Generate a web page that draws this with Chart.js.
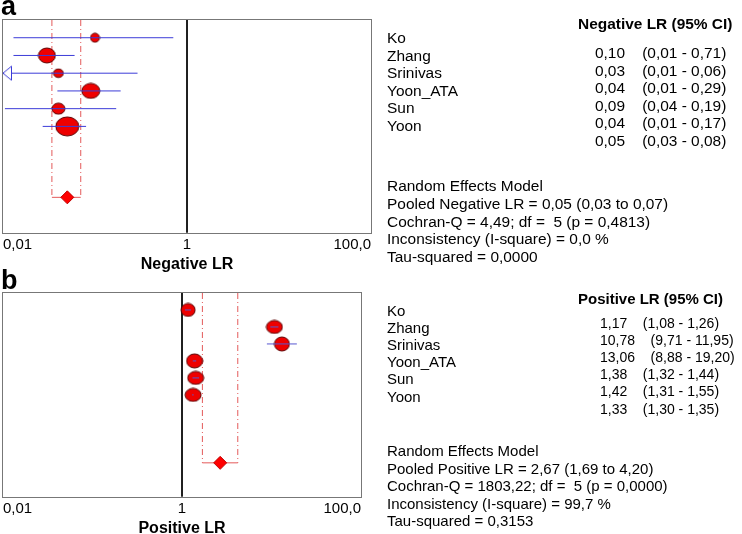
<!DOCTYPE html>
<html>
<head>
<meta charset="utf-8">
<script src="https://cdn.jsdelivr.net/npm/chart.js@4.4.1/dist/chart.umd.min.js"></script>
<style>
  html, body { margin: 0; padding: 0; background: #fff; }
  #page { position: relative; width: 742px; height: 534px; overflow: hidden;
          font-family: "Liberation Sans", Arial, sans-serif; color: #000; }
  #page canvas { position: absolute; left: 0; }
  .txt { position: absolute; line-height: 18px; white-space: pre; }
  .bold { font-weight: bold; }
  .letter { position: absolute; font-weight: bold; font-size: 27px; line-height: 27px; }
</style>
</head>
<body>
<div id="page">
  <canvas id="chartA" width="742" height="274" style="top:0"></canvas>
  <canvas id="chartB" width="742" height="274" style="top:264px"></canvas>
  <div class="letter" style="left:1px;top:-7px">a</div>
  <div class="letter" style="left:1px;top:267px">b</div>
</div>
<script>
// axis
const X_MIN = 0.01;
const X_MAX = 100;
const xTicks = [0.01, 1, 100];
const xTickLabels = ["0,01", "1", "100,0"];

const studies = ["Ko", "Zhang", "Srinivas", "Yoon_ATA", "Sun", "Yoon"];

// a: negative LR
const negLR = [0.10, 0.03, 0.04, 0.09, 0.04, 0.05];
const negLow = [0.013, 0.013, 0.006, 0.039, 0.0105, 0.027];
const negHigh = [0.71, 0.06, 0.29, 0.19, 0.17, 0.08];
const negPooled = [0.05, 0.034, 0.07]; // estimate, low, high
const negStats = [
  "Cochran-Q = 4,49; df =  5 (p = 0,4813)",
  "Inconsistency (I-square) = 0,0 %",
  "Tau-squared = 0,0000"
];

// b: positive LR
const posLR = [1.17, 10.78, 13.06, 1.38, 1.42, 1.33];
const posLow = [1.08, 9.71, 8.88, 1.32, 1.31, 1.30];
const posHigh = [1.26, 11.95, 19.20, 1.44, 1.55, 1.35];
const posPooled = [2.67, 1.69, 4.20];
const posStats = [
  "Cochran-Q = 1803,22; df =  5 (p = 0,0000)",
  "Inconsistency (I-square) = 99,7 %",
  "Tau-squared = 0,3153"
];

const POOLED_ROW = 10;
const FONT = "'Liberation Sans', Arial, sans-serif";

const fmt = v => v.toFixed(2).replace(".", ",");

function ellipseMarker(w, h) {
  const c = document.createElement("canvas");
  c.width = Math.ceil(w) + 2;
  c.height = Math.ceil(h) + 2;
  const g = c.getContext("2d");
  g.beginPath();
  g.ellipse(c.width / 2, c.height / 2, w / 2, h / 2, 0, 0, 2 * Math.PI);
  g.fillStyle = "#ee0000";
  g.fill();
  g.lineWidth = 1;
  g.strokeStyle = "#5a0000";
  g.stroke();
  return c;
}

// open triangle, apex at the centre of the canvas, pointing left
function leftArrow(len, half) {
  const c = document.createElement("canvas");
  c.width = 2 * len + 2;
  c.height = 2 * half + 2;
  const g = c.getContext("2d");
  g.beginPath();
  g.moveTo(len + 1, half + 1);
  g.lineTo(2 * len + 0.5, 1);
  g.lineTo(2 * len + 0.5, 2 * half + 1);
  g.closePath();
  g.fillStyle = "#fff";
  g.fill();
  g.strokeStyle = "#3c3cd8";
  g.lineWidth = 1;
  g.stroke();
  return c;
}

const framePlugin = {
  id: "frame",
  afterDatasetsDraw(chart) {
    const { ctx, chartArea: a } = chart;
    const l = Math.round(a.left) - 0.5, t = Math.round(a.top) - 0.5;
    const r = Math.round(a.right) + 0.5, b = Math.round(a.bottom) + 0.5;
    ctx.save();
    ctx.strokeStyle = "#777";
    ctx.lineWidth = 1;
    ctx.strokeRect(l, t, r - l, b - t);
    ctx.restore();
  }
};

function forest(canvasId, cfg) {
  const datasets = [];
  const dash = [6, 3, 1, 3];
  const red = "#e45a5a";

  // line of no effect
  datasets.push({
    data: [{ x: 1, y: 0 }, { x: 1, y: 12 }],
    showLine: true, borderColor: "#000", borderWidth: 1, pointRadius: 0, order: 5
  });
  // pooled CI bracket
  datasets.push({
    data: [{ x: cfg.pooled[1], y: 0 }, { x: cfg.pooled[1], y: POOLED_ROW }],
    showLine: true, borderColor: red, borderWidth: 1, borderDash: dash, pointRadius: 0, order: 4
  });
  datasets.push({
    data: [{ x: cfg.pooled[2], y: 0 }, { x: cfg.pooled[2], y: POOLED_ROW }],
    showLine: true, borderColor: red, borderWidth: 1, borderDash: dash, pointRadius: 0, order: 4
  });
  datasets.push({
    data: [{ x: cfg.pooled[1], y: POOLED_ROW }, { x: cfg.pooled[2], y: POOLED_ROW }],
    showLine: true, borderColor: red, borderWidth: 1, pointRadius: 0, order: 1
  });
  // study markers
  datasets.push({
    data: cfg.est.map((v, i) => ({ x: v, y: i + 1 })),
    pointStyle: cfg.sizes.map(s => ellipseMarker(s[0], s[1])),
    pointRadius: 5, showLine: false, order: 3
  });
  // study CIs
  cfg.low.forEach((lo, i) => {
    datasets.push({
      data: [{ x: lo, y: i + 1 }, { x: cfg.high[i], y: i + 1 }],
      showLine: true, borderColor: cfg.ciColor, borderWidth: 1, pointRadius: 0, order: 2
    });
  });
  // arrows for CIs running off the axis
  const off = cfg.low.map((lo, i) => lo < X_MIN ? { x: X_MIN, y: i + 1 } : null).filter(Boolean);
  if (off.length) {
    datasets.push({
      data: off, pointStyle: leftArrow(9, 7), pointRadius: 5, showLine: false, order: 1
    });
  }
  // pooled diamond
  datasets.push({
    data: [{ x: cfg.pooled[0], y: POOLED_ROW }],
    pointStyle: "rectRot", pointRadius: 6.5, backgroundColor: "#ff0000",
    borderColor: "#c00000", borderWidth: 1, showLine: false, order: 0
  });

  new Chart(document.getElementById(canvasId), {
    type: "scatter",
    data: { datasets },
    options: {
      responsive: false,
      animation: false,
      devicePixelRatio: 1,
      events: [],
      layout: {
        autoPadding: false,
        padding: { left: cfg.padLeft, right: cfg.padRight, top: cfg.padTop, bottom: 0 }
      },
      plugins: { legend: { display: false }, tooltip: { enabled: false } },
      scales: {
        x: {
          type: "logarithmic",
          min: X_MIN,
          max: X_MAX,
          afterBuildTicks: s => { s.ticks = xTicks.map(v => ({ value: v })); },
          ticks: {
            align: "inner", padding: 3, color: "#000", autoSkip: false, maxRotation: 0,
            font: { size: 15, family: FONT },
            callback: (v, i) => xTickLabels[i]
          },
          grid: { display: false, drawTicks: false },
          border: { display: false },
          title: {
            display: true, text: cfg.title, color: "#000",
            font: { size: 16, weight: "bold", family: FONT },
            padding: { top: -2, bottom: 0 }
          }
        },
        y: { type: "linear", min: 0, max: 12, reverse: true, display: false }
      }
    },
    plugins: [framePlugin]
  });
}

forest("chartA", {
  est: negLR, low: negLow, high: negHigh, pooled: negPooled,
  title: "Negative LR", padLeft: 2, padRight: 371, padTop: 20, ciColor: "#3c3cd8",
  sizes: [[9, 9], [17, 15], [10, 8.5], [18, 15], [13, 11], [23, 19]]
});
forest("chartB", {
  est: posLR, low: posLow, high: posHigh, pooled: posPooled,
  title: "Positive LR", padLeft: 2, padRight: 381, padTop: 29, ciColor: "#5858d0",
  sizes: [[14, 13], [16, 13], [15, 14], [16, 14], [16, 13], [16, 13]]
});

// right-hand text tables
const page = document.getElementById("page");
function addText(str, x, cy, size, bold) {
  const d = document.createElement("div");
  d.className = "txt" + (bold ? " bold" : "");
  d.style.fontSize = size + "px";
  d.style.left = x + "px";
  d.style.top = (cy - 9) + "px";
  d.textContent = str;
  page.appendChild(d);
}

function textTable(t) {
  addText(t.header, t.headerX, t.headerY, t.size, true);
  studies.forEach((s, i) => addText(s, 387, t.nameY + t.step * i, t.size, false));
  t.est.forEach((v, i) => {
    addText(fmt(v) + "    (" + fmt(t.low[i]) + " - " + fmt(t.high[i]) + ")",
      t.valX, t.valY + t.step * i, t.valSize, false);
  });
  const lines = ["Random Effects Model",
    "Pooled " + t.label + " = " + fmt(t.pooled[0]) + " (" + fmt(t.pooled[1]) + " to " + fmt(t.pooled[2]) + ")"
  ].concat(t.stats);
  lines.forEach((s, k) => addText(s, 387, t.statY + t.statStep * k, t.size, false));
}

textTable({
  header: "Negative LR (95% CI)", headerX: 578, headerY: 24, size: 15.45, valSize: 15.45,
  nameY: 38, valY: 53, step: 17.5, valX: 595,
  est: negLR, low: negLow, high: negHigh, pooled: negPooled, label: "Negative LR",
  stats: negStats, statY: 186, statStep: 17.8
});
textTable({
  header: "Positive LR (95% CI)", headerX: 578, headerY: 299, size: 15, valSize: 14,
  nameY: 311, valY: 323, step: 17.1, valX: 600,
  est: posLR, low: posLow, high: posHigh, pooled: posPooled, label: "Positive LR",
  stats: posStats, statY: 451, statStep: 17.6
});
</script>
</body>
</html>
